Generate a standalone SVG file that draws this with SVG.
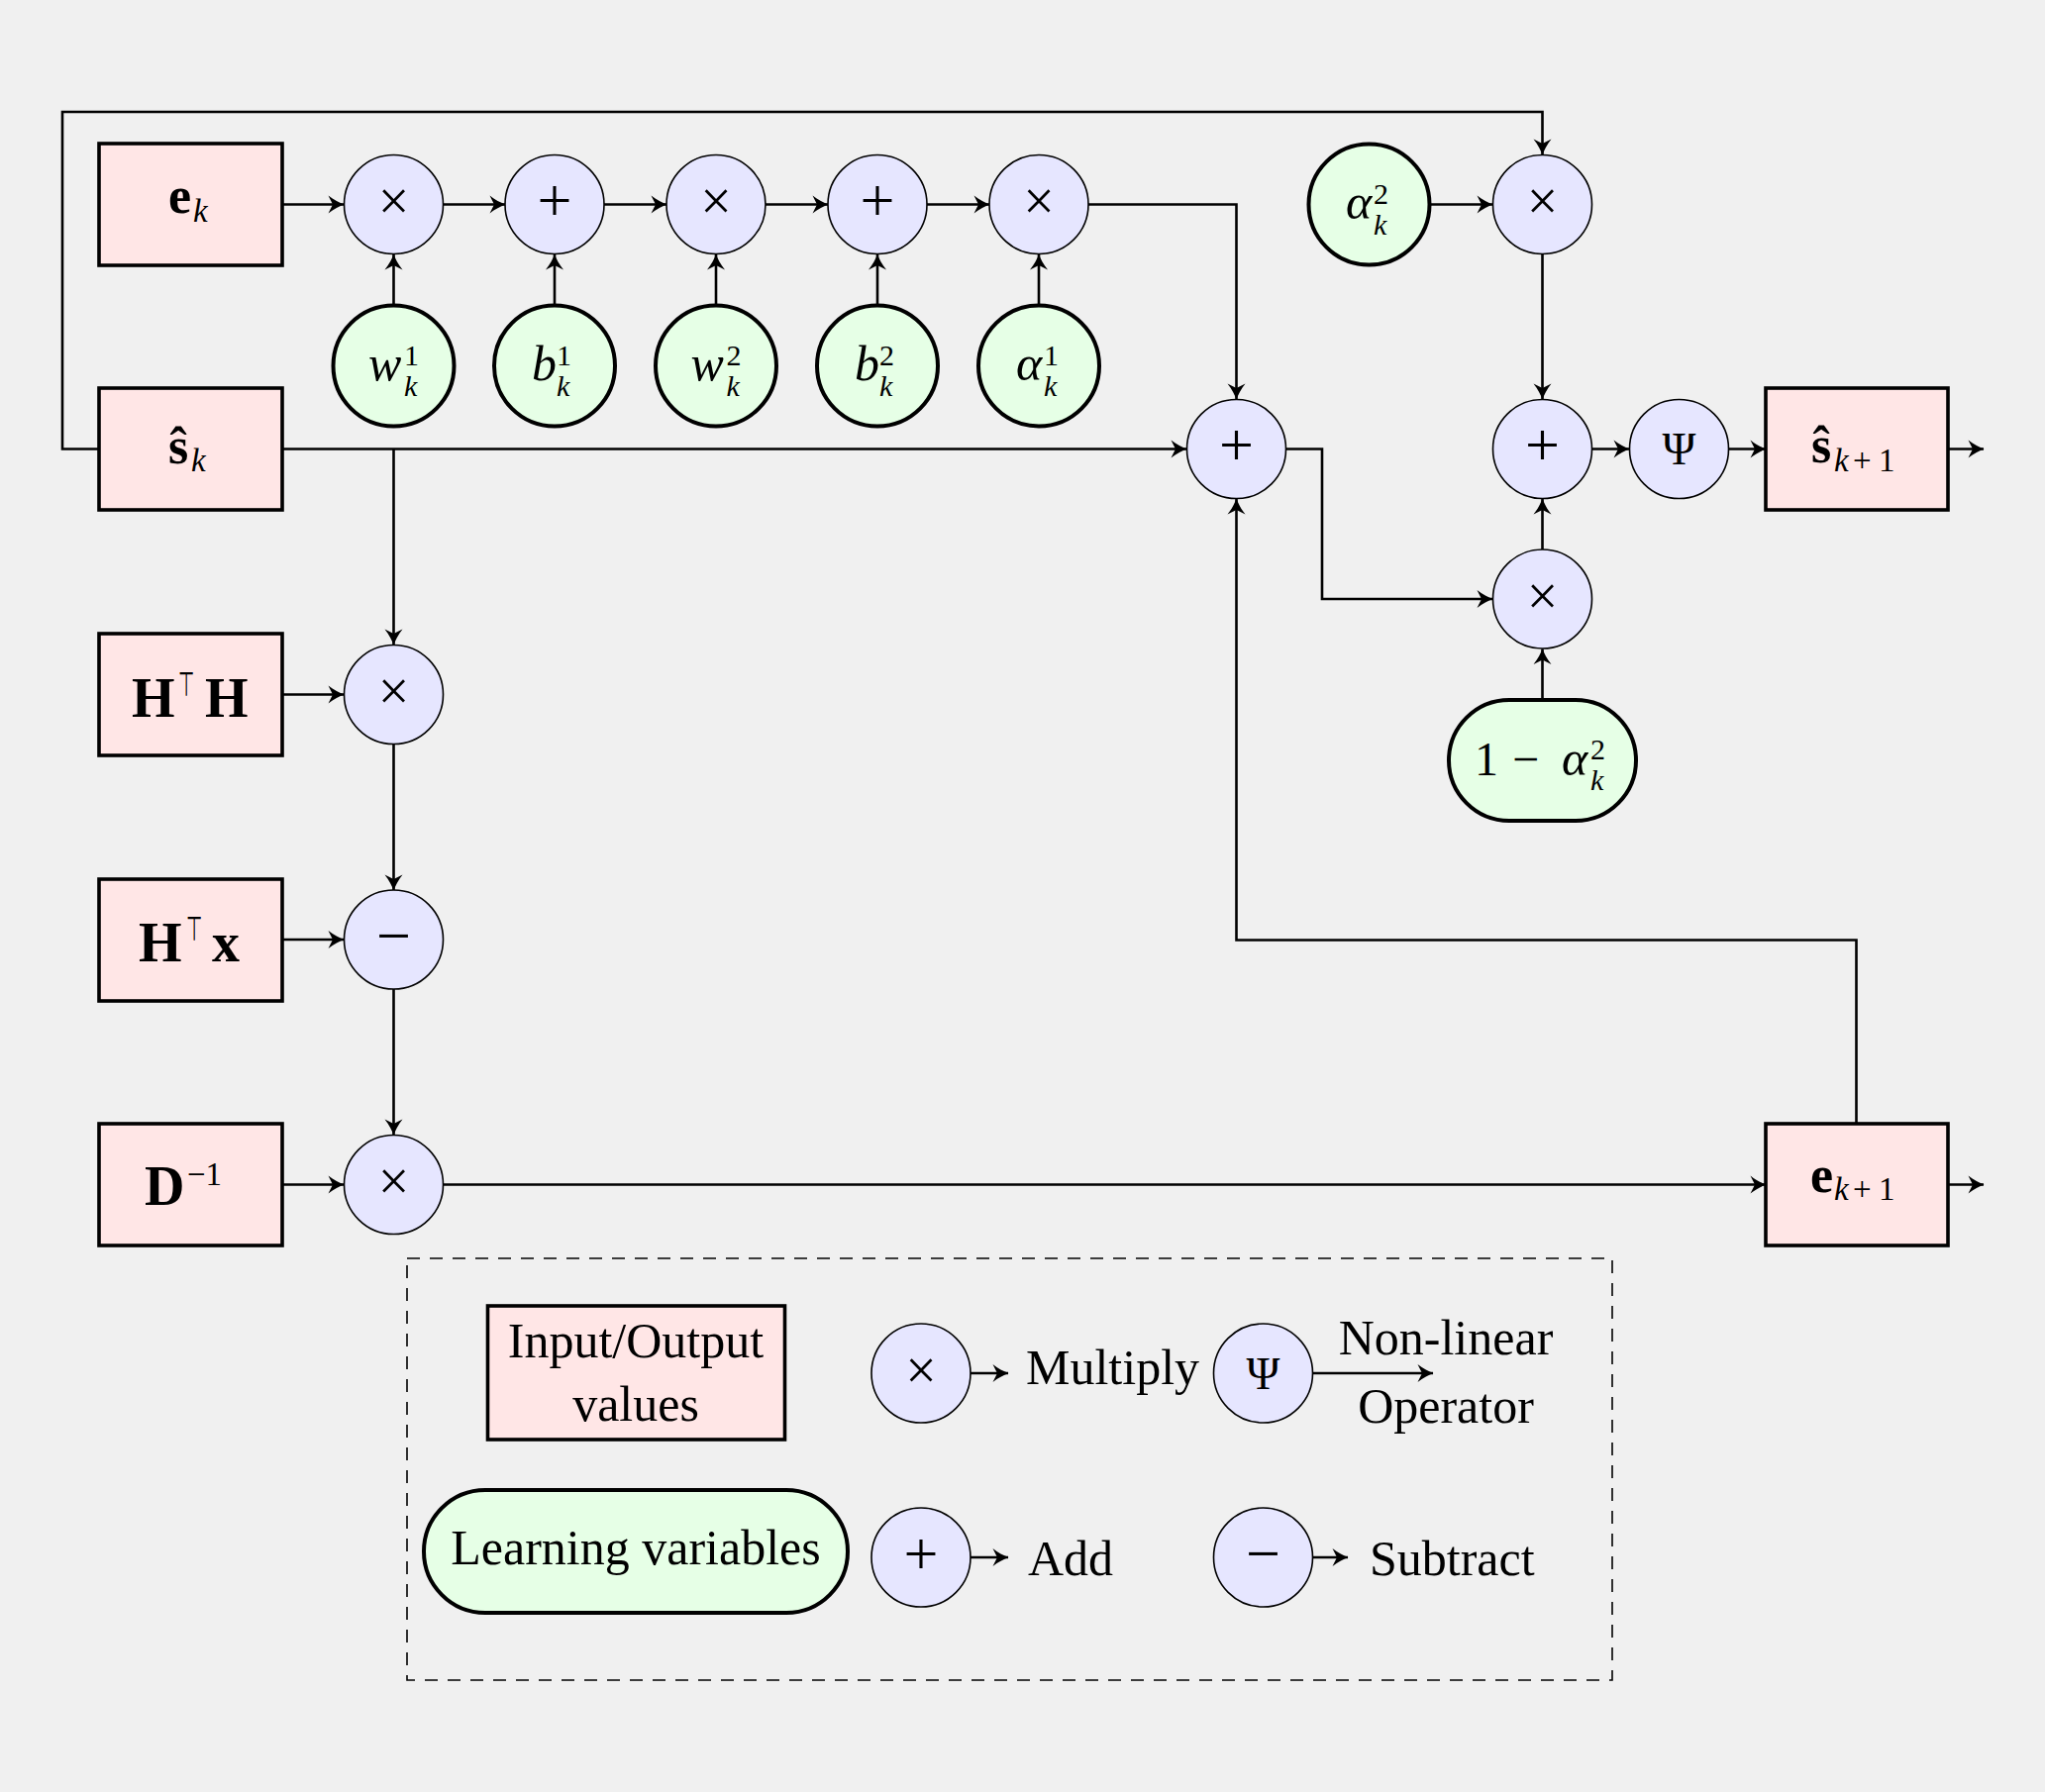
<svg xmlns="http://www.w3.org/2000/svg" width="2065" height="1810" viewBox="0 0 2065 1810">
  <defs>
    <marker id="arr" markerUnits="userSpaceOnUse" markerWidth="22" markerHeight="22" viewBox="0 0 22 22" refX="17.5" refY="11" orient="auto">
      <path d="M18 11 C13.5 9.4 7.5 6.5 2 2 L6.5 11 L2 20 C7.5 15.5 13.5 12.6 18 11 Z" fill="#000"/>
    </marker>
    <style>
      .io{fill:#ffe6e6;stroke:#000;stroke-width:3.6}
      .op{fill:#e6e6ff;stroke:#000;stroke-width:1.6}
      .lv{fill:#e6ffe6;stroke:#000;stroke-width:4}
      .wire{fill:none;stroke:#000;stroke-width:2.6}
      .arrow{marker-end:url(#arr)}
      text{font-family:"Liberation Serif","DejaVu Serif",serif;fill:#000}
      .sym{font-size:56px;text-anchor:middle}
      .sym2{font-size:62px;text-anchor:middle}
      .psi{font-size:46px;text-anchor:middle}
      .bold{font-size:52px;font-weight:bold}
      .boldH{font-size:56px;font-weight:bold}
      .it{font-size:50px;font-style:italic;font-weight:normal}
      .scr{font-size:33px;font-style:normal;font-weight:normal}
      .scri{font-size:33px;font-style:italic;font-weight:normal}
      .sup{font-size:30px;font-style:normal;font-weight:normal}
      .sub{font-size:30px;font-style:italic;font-weight:normal}
      .tee{font-family:"DejaVu Sans",sans-serif;font-size:34px}
      .leg{font-size:50px}
      .dash{fill:none;stroke:#000;stroke-width:1.6;stroke-dasharray:13 10}
    </style>
  </defs>
  <rect width="2065" height="1810" fill="#f0f0f0"/>

  <!-- wires -->
  <g id="connectors" class="wire">
    <path class="arrow" d="M285 206.5 H347"/>
    <path class="arrow" d="M447.5 206.5 H510"/>
    <path class="arrow" d="M610 206.5 H673"/>
    <path class="arrow" d="M773 206.5 H836"/>
    <path class="arrow" d="M936 206.5 H999"/>
    <path class="arrow" d="M1099 206.5 H1248.5 V403"/>
    <path class="arrow" d="M397.5 308 V257"/>
    <path class="arrow" d="M560 308 V257"/>
    <path class="arrow" d="M723 308 V257"/>
    <path class="arrow" d="M886 308 V257"/>
    <path class="arrow" d="M1049 308 V257"/>
    <path class="arrow" d="M285 453.5 H1198"/>
    <path class="arrow" d="M100 453.5 H63 V113 H1557.5 V156"/>
    <path class="arrow" d="M397.5 453.5 V651"/>
    <path class="arrow" d="M285 701.5 H347"/>
    <path class="arrow" d="M397.5 751.5 V899"/>
    <path class="arrow" d="M285 949 H347"/>
    <path class="arrow" d="M397.5 999 V1146"/>
    <path class="arrow" d="M285 1196.5 H347"/>
    <path class="arrow" d="M447.5 1196.5 H1783"/>
    <path class="arrow" d="M1874.5 1135 V949.5 H1248.5 V504"/>
    <path class="arrow" d="M1443.5 206.5 H1507"/>
    <path class="arrow" d="M1557.5 256.5 V403"/>
    <path class="arrow" d="M1298.5 453.5 H1335 V605 H1507"/>
    <path class="arrow" d="M1557.5 555 V504"/>
    <path class="arrow" d="M1557.5 707 V655.5"/>
    <path class="arrow" d="M1607.5 453.5 H1645"/>
    <path class="arrow" d="M1745.5 453.5 H1783"/>
    <path class="arrow" d="M1967 453.5 H2003"/>
    <path class="arrow" d="M1967 1196.5 H2003"/>
  </g>

  <!-- input / output boxes -->
  <g id="e_k">
    <rect class="io" x="100" y="145" width="185" height="123"/>
    <text class="bold" x="170" y="215">e<tspan class="scri" x="195" y="224">k</tspan></text>
  </g>
  <g id="s_k">
    <rect class="io" x="100" y="392" width="185" height="123"/>
    <text class="bold" x="170" y="468">ŝ<tspan class="scri" x="193" y="476">k</tspan></text>
  </g>
  <g id="HtH">
    <rect class="io" x="100" y="640" width="185" height="123"/>
    <text class="boldH" x="133" y="724">H</text>
    <text class="tee" transform="translate(180 703) scale(0.55 1)">⊤</text>
    <text class="boldH" x="207" y="724">H</text>
  </g>
  <g id="Htx">
    <rect class="io" x="100" y="888" width="185" height="123"/>
    <text class="boldH" x="140" y="971">H</text>
    <text class="tee" transform="translate(188 950) scale(0.55 1)">⊤</text>
    <text class="boldH" x="214" y="971">x</text>
  </g>
  <g id="D_inv">
    <rect class="io" x="100" y="1135" width="185" height="123"/>
    <text class="boldH" x="146" y="1217">D<tspan class="scr" x="189" y="1197">−1</tspan></text>
  </g>
  <g id="s_k1">
    <rect class="io" x="1783" y="392" width="184" height="123"/>
    <text class="bold" x="1829" y="467">ŝ<tspan class="scri" x="1852" y="476">k</tspan><tspan class="scr" x="1871" y="476">+</tspan><tspan class="scr" x="1897" y="476">1</tspan></text>
  </g>
  <g id="e_k1">
    <rect class="io" x="1783" y="1135" width="184" height="123"/>
    <text class="bold" x="1828" y="1204">e<tspan class="scri" x="1852" y="1212">k</tspan><tspan class="scr" x="1871" y="1212">+</tspan><tspan class="scr" x="1897" y="1212">1</tspan></text>
  </g>

  <!-- operator nodes -->
  <g id="mul1"><circle class="op" cx="397.5" cy="206.5" r="50"/><text class="sym" x="397.5" y="222">×</text></g>
  <g id="add1"><circle class="op" cx="560" cy="206.5" r="50"/><text class="sym2" x="560" y="222.5">+</text></g>
  <g id="mul2"><circle class="op" cx="723" cy="206.5" r="50"/><text class="sym" x="723" y="222">×</text></g>
  <g id="add2"><circle class="op" cx="886" cy="206.5" r="50"/><text class="sym2" x="886" y="222.5">+</text></g>
  <g id="mul3"><circle class="op" cx="1049" cy="206.5" r="50"/><text class="sym" x="1049" y="222">×</text></g>
  <g id="add3"><circle class="op" cx="1248.5" cy="453.5" r="50"/><text class="sym2" x="1248.5" y="469.5">+</text></g>
  <g id="mul4"><circle class="op" cx="1557.5" cy="206.5" r="50"/><text class="sym" x="1557.5" y="222">×</text></g>
  <g id="add4"><circle class="op" cx="1557.5" cy="453.5" r="50"/><text class="sym2" x="1557.5" y="469.5">+</text></g>
  <g id="mul5"><circle class="op" cx="1557.5" cy="605" r="50"/><text class="sym" x="1557.5" y="620.5">×</text></g>
  <g id="psi"><circle class="op" cx="1695.5" cy="453.5" r="50"/><text class="psi" x="1695.5" y="469">Ψ</text></g>
  <g id="mul6"><circle class="op" cx="397.5" cy="701.5" r="50"/><text class="sym" x="397.5" y="717">×</text></g>
  <g id="sub1"><circle class="op" cx="397.5" cy="949" r="50"/><text class="sym2" x="397.5" y="966">−</text></g>
  <g id="mul7"><circle class="op" cx="397.5" cy="1196.5" r="50"/><text class="sym" x="397.5" y="1212">×</text></g>

  <!-- learned parameters: letter with stacked super/subscript -->
  <g id="w1">
    <circle class="lv" cx="397.5" cy="369.5" r="61"/>
    <text class="it" x="372" y="384">w<tspan class="sup" x="408" y="369">1</tspan><tspan class="sub" x="408" y="400">k</tspan></text>
  </g>
  <g id="b1">
    <circle class="lv" cx="560" cy="369.5" r="61"/>
    <text class="it" x="537" y="384">b<tspan class="sup" x="562" y="369">1</tspan><tspan class="sub" x="562" y="400">k</tspan></text>
  </g>
  <g id="w2">
    <circle class="lv" cx="723" cy="369.5" r="61"/>
    <text class="it" x="697.5" y="384">w<tspan class="sup" x="733.5" y="369">2</tspan><tspan class="sub" x="733.5" y="400">k</tspan></text>
  </g>
  <g id="b2">
    <circle class="lv" cx="886" cy="369.5" r="61"/>
    <text class="it" x="863" y="384">b<tspan class="sup" x="888" y="369">2</tspan><tspan class="sub" x="888" y="400">k</tspan></text>
  </g>
  <g id="alpha1">
    <circle class="lv" cx="1049" cy="369.5" r="61"/>
    <text class="it" x="1026" y="384">α<tspan class="sup" x="1054" y="369">1</tspan><tspan class="sub" x="1054" y="400">k</tspan></text>
  </g>
  <g id="alpha2">
    <circle class="lv" cx="1382.5" cy="206.5" r="61"/>
    <text class="it" x="1359" y="221">α<tspan class="sup" x="1387" y="206">2</tspan><tspan class="sub" x="1387" y="237">k</tspan></text>
  </g>
  <g id="one_minus_alpha2">
    <rect class="lv" x="1463" y="707" width="189" height="122" rx="61" ry="61"/>
    <text font-size="48px" x="1489" y="783">1<tspan x="1527">−</tspan><tspan class="it" x="1577">α</tspan><tspan class="sup" x="1606" y="767">2</tspan><tspan class="sub" x="1606" y="798">k</tspan></text>
  </g>

  <!-- key -->
  <g id="legend">
    <rect class="dash" x="411" y="1271" width="1217" height="426"/>
    <rect class="io" x="492.5" y="1319" width="300" height="135"/>
    <text class="leg" x="642" y="1371" text-anchor="middle">Input/Output</text>
    <text class="leg" x="642" y="1435" text-anchor="middle">values</text>
    <rect class="lv" x="428" y="1505" width="428" height="124" rx="62" ry="62"/>
    <text class="leg" x="642" y="1580" text-anchor="middle">Learning variables</text>
    <circle class="op" cx="930" cy="1387" r="50"/><text class="sym" x="930" y="1402.5">×</text>
    <circle class="op" cx="1275.5" cy="1387" r="50"/><text class="psi" x="1275.5" y="1402.5">Ψ</text>
    <circle class="op" cx="930" cy="1573" r="50"/><text class="sym2" x="930" y="1589.5">+</text>
    <circle class="op" cx="1275.5" cy="1573" r="50"/><text class="sym2" x="1275.5" y="1590">−</text>
    <g class="wire">
      <path class="arrow" d="M980 1387 H1018"/>
      <path class="arrow" d="M1325.5 1387 H1447"/>
      <path class="arrow" d="M980 1573 H1018"/>
      <path class="arrow" d="M1325.5 1573 H1361"/>
    </g>
    <text class="leg" x="1036" y="1398">Multiply</text>
    <text class="leg" x="1460" y="1368" text-anchor="middle">Non-linear</text>
    <text class="leg" x="1460" y="1437" text-anchor="middle">Operator</text>
    <text class="leg" x="1038" y="1591">Add</text>
    <text class="leg" x="1383" y="1591">Subtract</text>
  </g>
</svg>
